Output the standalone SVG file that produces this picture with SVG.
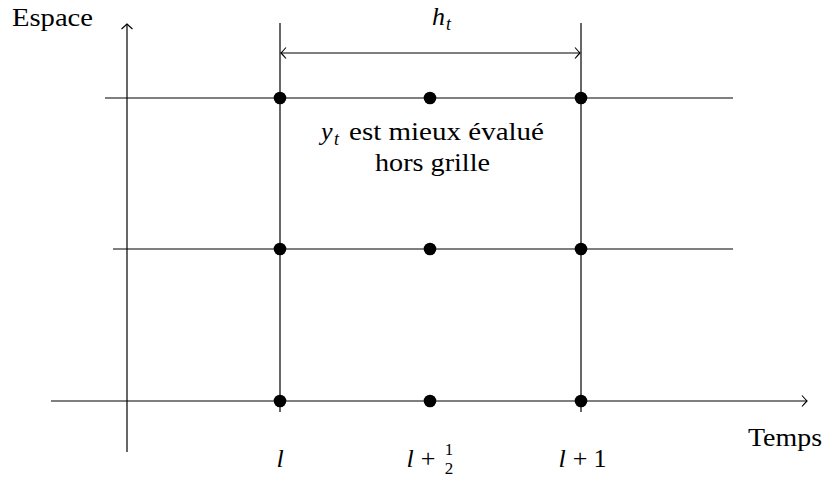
<svg xmlns="http://www.w3.org/2000/svg" width="826" height="478" viewBox="0 0 826 478">
<defs>
<style>
.ln{stroke:#000;stroke-width:1.2;fill:none}
.dot{fill:#000}
</style>
<marker id="to" viewBox="-6 -6 8 12" markerWidth="8" markerHeight="12" refX="0" refY="0" orient="auto-start-reverse" markerUnits="userSpaceOnUse">
<path d="M-5,-5.5 Q-1.5,-1.5 0,0 Q-1.5,1.5 -5,5.5" stroke="#000" stroke-width="1.1" fill="none"/>
</marker>
</defs>
<g id="connectors">
<line class="ln" x1="127" y1="452" x2="127" y2="24" marker-end="url(#to)"/>
<line class="ln" x1="51" y1="401" x2="807" y2="401" marker-end="url(#to)"/>
<line class="ln" x1="105" y1="98" x2="733" y2="98"/>
<line class="ln" x1="113" y1="249" x2="733" y2="249"/>
<line class="ln" x1="280" y1="23" x2="280" y2="412"/>
<line class="ln" x1="581" y1="23" x2="581" y2="412"/>
<line class="ln" x1="281" y1="53" x2="580" y2="53" marker-start="url(#to)" marker-end="url(#to)"/>
</g>
<g id="dots">
<circle class="dot" cx="280" cy="98" r="6.3"/>
<circle class="dot" cx="430" cy="98" r="6.3"/>
<circle class="dot" cx="581" cy="98" r="6.3"/>
<circle class="dot" cx="280" cy="249" r="6.3"/>
<circle class="dot" cx="430" cy="249" r="6.3"/>
<circle class="dot" cx="581" cy="249" r="6.3"/>
<circle class="dot" cx="280" cy="401" r="6.3"/>
<circle class="dot" cx="430" cy="401" r="6.3"/>
<circle class="dot" cx="581" cy="401" r="6.3"/>
</g>
<g id="labels" font-family="Liberation Serif, Times New Roman, serif" font-size="26" fill="#000">
<text x="12" y="26" textLength="81" lengthAdjust="spacingAndGlyphs">Espace</text>
<text x="748" y="446" textLength="74" lengthAdjust="spacingAndGlyphs">Temps</text>
<text x="432" y="25" font-style="italic">h</text>
<text x="446" y="30" font-style="italic" font-size="18">t</text>
<text x="321" y="140" font-style="italic">y</text>
<text x="334" y="145" font-style="italic" font-size="18">t</text>
<text x="349" y="140" textLength="195" lengthAdjust="spacingAndGlyphs">est mieux évalué</text>
<text x="375" y="171" textLength="115" lengthAdjust="spacingAndGlyphs">hors grille</text>
<text x="280" y="467" font-style="italic" text-anchor="middle">l</text>
<text x="410" y="467" font-style="italic" text-anchor="middle">l</text>
<text x="428" y="467" text-anchor="middle">+</text>
<text x="449" y="455" font-size="17" text-anchor="middle">1</text>
<text x="449" y="474" font-size="17" text-anchor="middle">2</text>
<text x="562" y="467" font-style="italic" text-anchor="middle">l</text>
<text x="580" y="467" text-anchor="middle">+</text>
<text x="600" y="467" text-anchor="middle">1</text>
</g>
</svg>
